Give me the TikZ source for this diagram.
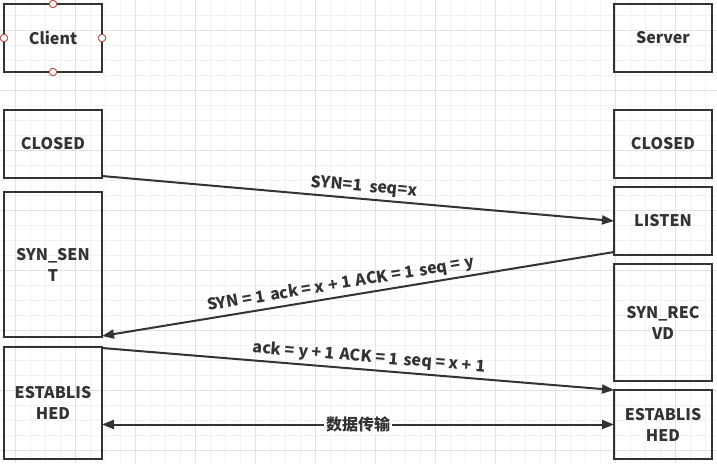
\documentclass[tikz,border=0pt]{standalone}
\usepackage{fontspec}
\setmainfont{Noto Sans CJK SC}
\usetikzlibrary{arrows.meta}
\definecolor{ink}{HTML}{333333}
\definecolor{gminor}{HTML}{F2F2F2}
\definecolor{gmajor}{HTML}{E2E2E2}
\definecolor{handlec}{HTML}{B85450}
\begin{document}
\begin{tikzpicture}[x=1pt,y=-1pt,
  box/.style={draw=ink, line width=2pt, minimum width=98pt, text=ink,
    font=\bfseries\fontsize{16}{21}\selectfont, align=center, inner sep=0pt, outer sep=0pt},
  msg/.style={draw=ink, line width=2pt, -{Triangle[length=12pt,width=9pt]}},
  lbl/.style={text=ink, font=\bfseries\fontsize{16}{20}\selectfont, sloped, above, inner sep=3pt},
  handle/.style={circle, draw=handlec, fill=white, line width=1pt, minimum size=7.5pt, inner sep=0pt}]
\useasboundingbox (0,0) rectangle (717,463);
\fill[white] (0,0) rectangle (717,463);
% grid
\foreach \i in {15,30,...,705} \draw[gminor,line width=1pt] (\i,0) -- (\i,463);
\foreach \i in {15,30,...,460} \draw[gminor,line width=1pt] (0,\i) -- (717,\i);
\foreach \i in {15,75,...,705} \draw[gmajor,line width=1pt] (\i,0) -- (\i,463);
\foreach \i in {30,90,...,460} \draw[gmajor,line width=1pt] (0,\i) -- (717,\i);
% boxes
\node[box, minimum height=68pt] (client) at (53,38) {Client};
\node[box, minimum height=68pt] (server) at (663,38) {Server};
\node[box, minimum height=68pt] (closedL) at (53,144) {CLOSED};
\node[box, minimum height=68pt] (closedR) at (663,144) {CLOSED};
\node[box, minimum height=145pt] (synsent) at (53,264.5) {SYN\_SEN\\T};
\node[box, minimum height=68pt] (listen) at (663,221) {LISTEN};
\node[box, minimum height=117pt] (synrecvd) at (663,322.5) {SYN\_REC\\VD};
\node[box, minimum height=112pt] (estL) at (53,403) {ESTABLIS\\HED};
\node[box, minimum height=69pt] (estR) at (663,424.5) {ESTABLIS\\HED};
% handles on Client
\node[handle] (h1) at (client.north) {};
\node[handle] (h2) at (client.south) {};
\node[handle] (h3) at (client.west) {};
\node[handle] (h4) at (client.east) {};
% messages
\draw[msg] ([yshift=-32pt]closedL.east) -- node[lbl,pos=0.51]{SYN=1\ \ seq=x} (listen.west);
\draw[msg] ([yshift=-31pt]listen.west) -- node[lbl,pos=0.53]{SYN = 1\ \hspace{1.5pt}ack = x + 1\ \hspace{1.5pt}ACK = 1\ \hspace{1.5pt}seq = y} ([yshift=-71.5pt]synsent.east);
\draw[msg] ([yshift=55pt]estL.east) -- node[lbl,pos=0.52]{ack = y + 1\ \hspace{1.5pt}ACK = 1\ \hspace{1.5pt}seq = x + 1} (estR.north west);
\draw[msg, {Triangle[length=12pt,width=9pt]}-{Triangle[length=12pt,width=9pt]}] (estL.east |- estR.west) -- node[fill=white, text=ink, font=\bfseries\fontsize{16}{20}\selectfont, inner sep=2pt]{数据传输} (estR.west);
\end{tikzpicture}
\end{document}
